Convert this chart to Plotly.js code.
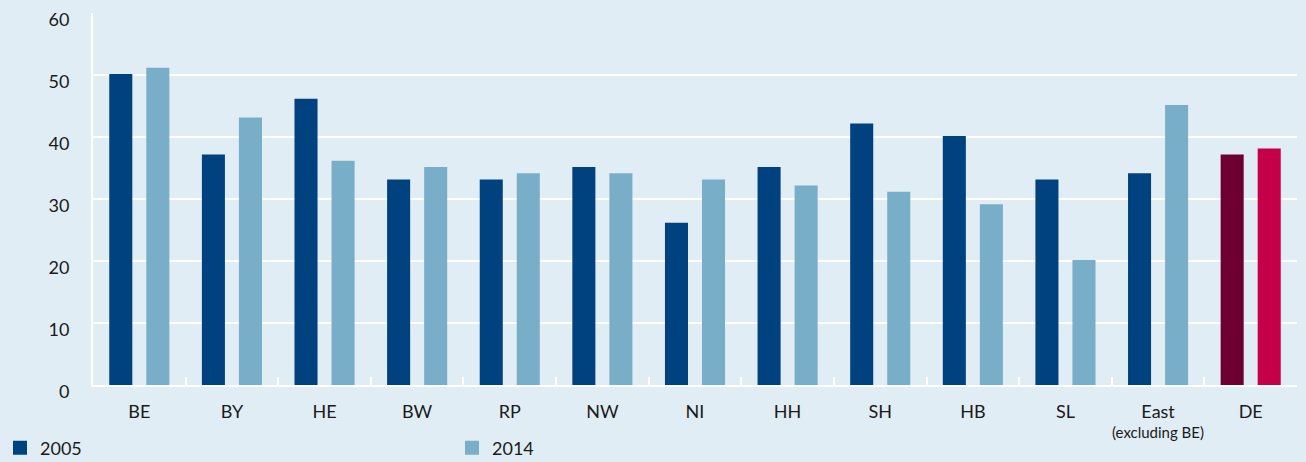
<!DOCTYPE html>
<html>
<head>
<meta charset="utf-8">
<script src="https://cdn.plot.ly/plotly-3.0.1.min.js"></script>
<style>html,body{margin:0;padding:0;background:#e1edf5;}#chart{width:1306px;height:462px;}</style>
</head>
<body>
<div id="chart"></div>
<script>
const categories = ["BE","BY","HE","BW","RP","NW","NI","HH","SH","HB","SL","East","DE"];
const eastNote = "(excluding BE)";
const values2005 = [50,37,46,33,33,35,26,35,42,40,33,34,37];
const values2014 = [51,43,36,35,34,34,33,32,31,29,20,45,38];
const yTicks = [0,10,20,30,40,50,60];

const dark = "#00427f", light = "#79aec9", deDark = "#6d0030", deLight = "#c50048";
const colors2005 = categories.map((c,i)=> i===categories.length-1 ? deDark : dark);
const colors2014 = categories.map((c,i)=> i===categories.length-1 ? deLight : light);

const data = [
  {type:"bar", name:"2005", x:categories, y:values2005, marker:{color:colors2005, line:{color:colors2005, width:2}}, hoverinfo:"x+y"},
  {type:"bar", name:"2014", x:categories, y:values2014, marker:{color:colors2014, line:{color:colors2014, width:2}}, hoverinfo:"x+y"}
];
const layout = {
  width:1306, height:462,
  paper_bgcolor:"#e1edf5", plot_bgcolor:"#e1edf5",
  font:{family:"Lato, 'Open Sans', sans-serif", size:18, color:"#1a1a1a"},
  margin:{l:93, r:9, t:13, b:77, autoexpand:false},
  barmode:"group", bargap:0.2, bargroupgap:0.432,
  showlegend:true,
  legend:{orientation:"h", xref:"container", yref:"container", x:0, y:0.03, xanchor:"left", yanchor:"middle",
          entrywidth:407, entrywidthmode:"pixels", font:{size:18, color:"#1a1a1a"}, bgcolor:"rgba(0,0,0,0)", tracegroupgap:0},
  annotations:[{x:"East", y:-0.127, xref:"x", yref:"paper", text:eastNote, showarrow:false,
                xanchor:"center", yanchor:"middle", font:{size:15, color:"#1a1a1a"}}],
  xaxis:{type:"category", showline:true, linecolor:"#ffffff", linewidth:2, ticks:"inside", tickson:"boundaries",
         ticklen:8, tickwidth:2, tickcolor:"#ffffff", showgrid:false, ticklabelstandoff:9, tickangle:0, automargin:false, fixedrange:true},
  yaxis:{range:[0,60], tickvals:yTicks, ticktext:yTicks.map(String), showline:true, linecolor:"#ffffff", linewidth:2,
         showgrid:true, gridcolor:"#ffffff", gridwidth:2, zeroline:false, ticks:"", ticklabelstandoff:18, ticklabelshift:7, automargin:false, fixedrange:true}
};
Plotly.newPlot("chart", data, layout, {displayModeBar:false, staticPlot:true});
</script>
</body>
</html>
